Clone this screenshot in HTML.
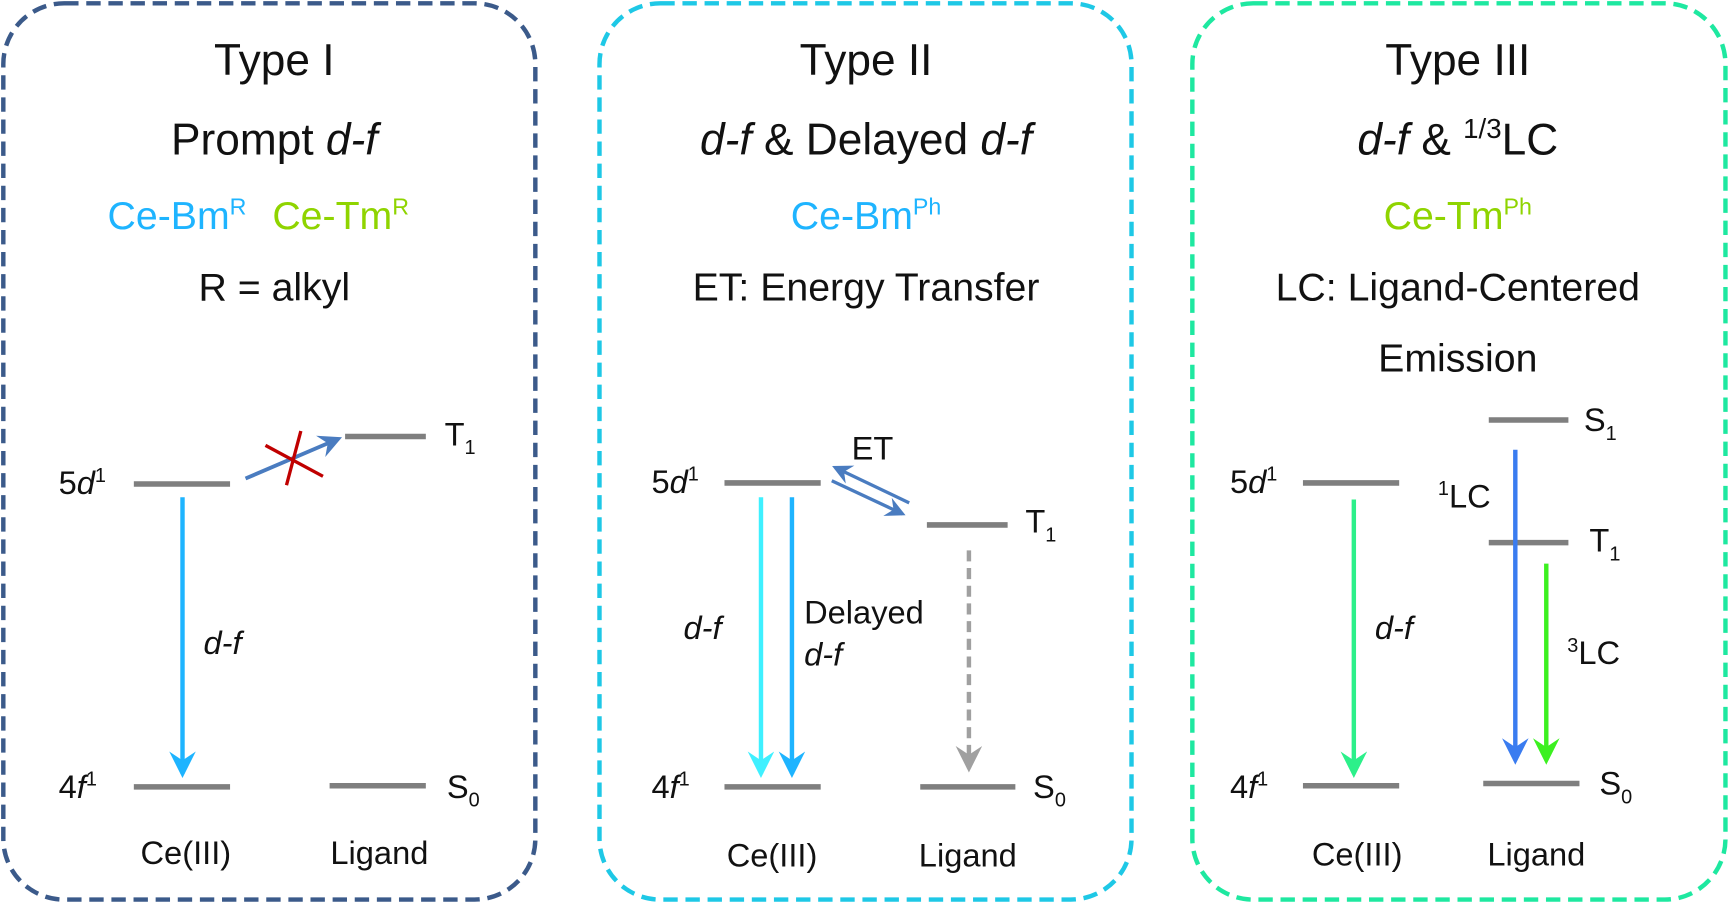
<!DOCTYPE html>
<html><head><meta charset="utf-8"><style>
html,body{margin:0;padding:0;background:#fff;}
svg{display:block;}
text{font-family:"Liberation Sans",sans-serif;fill:#111;}
</style></head><body>
<svg width="1731" height="904" viewBox="0 0 1565 818" preserveAspectRatio="none" xmlns="http://www.w3.org/2000/svg">
<defs>
<marker id="mb" markerWidth="6" markerHeight="6" refX="5" refY="3" orient="auto" markerUnits="strokeWidth"><path d="M0,0 L6,3 L0,6 L2,3 Z" fill="context-stroke"/></marker>
</defs>
<g fill="none" stroke-width="4" stroke-dasharray="13 7">
<rect x="3" y="3" width="481" height="811" rx="55" stroke="#3b5a8a"/>
<rect x="542" y="3" width="481" height="811" rx="55" stroke="#1ec8e6"/>
<rect x="1078" y="3" width="482" height="811" rx="55" stroke="#1ee8a0"/>
</g>
<g font-size="40" text-anchor="middle">
<text x="248" y="68">Type I</text>
<text x="248" y="140">Prompt <tspan font-style="italic">d-f</tspan></text>
<text x="783" y="68">Type II</text>
<text x="783" y="140"><tspan font-style="italic">d-f</tspan> &amp; Delayed <tspan font-style="italic">d-f</tspan></text>
<text x="1318" y="68">Type III</text>
<text x="1318" y="140"><tspan font-style="italic">d-f</tspan> &amp; <tspan font-size="25" dy="-15">1/3</tspan><tspan dy="15">LC</tspan></text>
</g>
<g font-size="35.5" text-anchor="middle">
<text x="160" y="207" style="fill:#1eb4ff">Ce-Bm<tspan font-size="21" dy="-13">R</tspan></text>
<text x="308" y="207" style="fill:#8fd400">Ce-Tm<tspan font-size="21" dy="-13">R</tspan></text>
<text x="248" y="272">R = alkyl</text>
<text x="783" y="207" style="fill:#1eb4ff">Ce-Bm<tspan font-size="21" dy="-13">Ph</tspan></text>
<text x="783" y="272">ET: Energy Transfer</text>
<text x="1318" y="207" style="fill:#8fd400">Ce-Tm<tspan font-size="21" dy="-13">Ph</tspan></text>
<text x="1318" y="272">LC: Ligand-Centered</text>
<text x="1318" y="336">Emission</text>
</g>
<g stroke="#7f7f7f" stroke-width="5">
<line x1="121" y1="438" x2="208" y2="438"/><line x1="121" y1="712" x2="208" y2="712"/>
<line x1="298" y1="711" x2="385" y2="711"/><line x1="312" y1="395" x2="385" y2="395"/>
<line x1="655" y1="437" x2="742" y2="437"/><line x1="655" y1="712" x2="742" y2="712"/>
<line x1="838" y1="475" x2="911" y2="475"/><line x1="832" y1="712" x2="918" y2="712"/>
<line x1="1178" y1="437" x2="1265" y2="437"/><line x1="1178" y1="711" x2="1265" y2="711"/>
<line x1="1346" y1="380" x2="1418" y2="380"/><line x1="1346" y1="491" x2="1418" y2="491"/>
<line x1="1341" y1="709" x2="1428" y2="709"/>
</g>
<g fill="none" stroke-width="4">
<line x1="165" y1="450" x2="165" y2="700" stroke="#1eb4ff" marker-end="url(#mb)"/>
<line x1="222" y1="433" x2="306" y2="397" stroke="#4a7cc0" stroke-width="3.5" marker-end="url(#mb)"/>
<line x1="240" y1="403" x2="292" y2="431" stroke="#c00000" stroke-width="3"/>
<line x1="272" y1="390" x2="259" y2="439" stroke="#c00000" stroke-width="3"/>
<line x1="688" y1="450" x2="688" y2="700" stroke="#3ff0ff" marker-end="url(#mb)"/>
<line x1="716" y1="450" x2="716" y2="700" stroke="#1eb4ff" marker-end="url(#mb)"/>
<line x1="876" y1="498" x2="876" y2="695" stroke="#a0a0a0" stroke-dasharray="10 6" marker-end="url(#mb)"/>
<line x1="822" y1="455" x2="755" y2="423" stroke="#4a7cc0" stroke-width="3" marker-end="url(#mb)"/>
<line x1="752" y1="435" x2="816" y2="465" stroke="#4a7cc0" stroke-width="3" marker-end="url(#mb)"/>
<line x1="1224" y1="452" x2="1224" y2="700" stroke="#2cf08a" marker-end="url(#mb)"/>
<line x1="1370" y1="407" x2="1370" y2="688" stroke="#3a7cf0" marker-end="url(#mb)"/>
<line x1="1398" y1="510" x2="1398" y2="688" stroke="#3cf020" marker-end="url(#mb)"/>
</g>
<g font-size="29.5">
<text x="53" y="447">5<tspan font-style="italic">d</tspan><tspan font-size="18" dy="-11">1</tspan></text>
<text x="53" y="722">4<tspan font-style="italic">f</tspan><tspan font-size="18" dy="-11">1</tspan></text>
<text x="402" y="403">T<tspan font-size="18" dy="8">1</tspan></text>
<text x="404" y="722">S<tspan font-size="18" dy="8">0</tspan></text>
<text x="184" y="592" font-style="italic">d-f</text>
<text x="168" y="782" text-anchor="middle">Ce(III)</text>
<text x="343" y="782" text-anchor="middle">Ligand</text>
<text x="589" y="446">5<tspan font-style="italic">d</tspan><tspan font-size="18" dy="-11">1</tspan></text>
<text x="589" y="722">4<tspan font-style="italic">f</tspan><tspan font-size="18" dy="-11">1</tspan></text>
<text x="770" y="416">ET</text>
<text x="927" y="482">T<tspan font-size="18" dy="8">1</tspan></text>
<text x="934" y="722">S<tspan font-size="18" dy="8">0</tspan></text>
<text x="618" y="578" font-style="italic">d-f</text>
<text x="727" y="564">Delayed</text>
<text x="727" y="602" font-style="italic">d-f</text>
<text x="698" y="784" text-anchor="middle">Ce(III)</text>
<text x="875" y="784" text-anchor="middle">Ligand</text>
<text x="1112" y="446">5<tspan font-style="italic">d</tspan><tspan font-size="18" dy="-11">1</tspan></text>
<text x="1112" y="722">4<tspan font-style="italic">f</tspan><tspan font-size="18" dy="-11">1</tspan></text>
<text x="1432" y="390">S<tspan font-size="18" dy="8">1</tspan></text>
<text x="1437" y="499">T<tspan font-size="18" dy="8">1</tspan></text>
<text x="1446" y="719">S<tspan font-size="18" dy="8">0</tspan></text>
<text x="1300" y="459"><tspan font-size="18" dy="-11">1</tspan><tspan dy="11">LC</tspan></text>
<text x="1417" y="601"><tspan font-size="18" dy="-11">3</tspan><tspan dy="11">LC</tspan></text>
<text x="1243" y="578" font-style="italic">d-f</text>
<text x="1227" y="783" text-anchor="middle">Ce(III)</text>
<text x="1389" y="783" text-anchor="middle">Ligand</text>
</g>
</svg>
</body></html>
